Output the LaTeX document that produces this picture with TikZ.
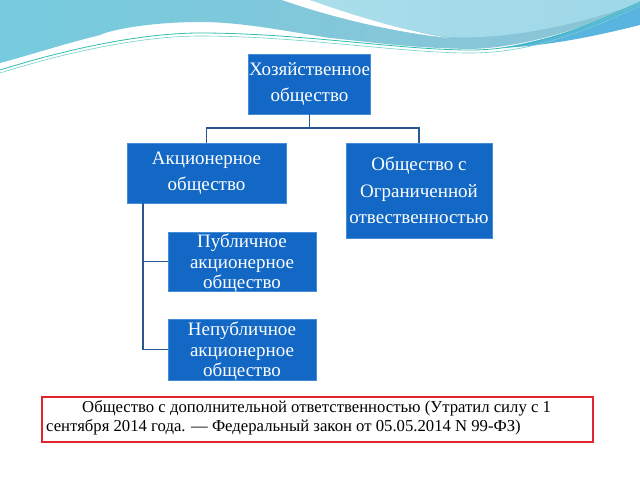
\documentclass[tikz,border=0pt]{standalone}
\usepackage{fontspec}
\setmainfont{Liberation Serif}
\definecolor{boxblue}{RGB}{18,104,196}
\definecolor{boxedge}{RGB}{70,140,215}
\definecolor{linkblue}{RGB}{40,88,145}
\definecolor{wavecyan}{RGB}{118,203,222}
\definecolor{wavegray}{RGB}{140,196,214}
\definecolor{wavelight}{RGB}{170,222,234}
\definecolor{waveblue}{RGB}{90,180,224}
\definecolor{teal}{RGB}{50,190,175}
\definecolor{notered}{RGB}{226,36,44}
\begin{document}
\begin{tikzpicture}[x=1pt,y=-1pt,
  orgbox/.style={draw=boxedge,line width=0.8pt,fill=boxblue,text=white,align=center,inner sep=0pt},
  bigtxt/.style={font=\fontsize{19}{26.5}\selectfont},
  smalltxt/.style={font=\fontsize{19}{20.5}\selectfont,text depth=0pt},
  link/.style={draw=linkblue,line width=1.5pt}]
\useasboundingbox (0,0) rectangle (640,480);
\fill[white] (0,0) rectangle (640,480);
% top decoration
\shade[left color=wavecyan,right color=wavegray]
  (0,0) -- (640,0) -- (640,5) .. controls (580,30) and (520,48) .. (470,49)
  .. controls (410,48) and (370,42) .. (330,38)
  .. controls (280,30) and (240,22) .. (200,22)
  .. controls (150,22) and (110,30) .. (100,35)
  .. controls (60,45) and (30,55) .. (0,63) -- cycle;
\shade[left color=wavelight,right color=wavelight!85!waveblue]
  (310,0) .. controls (360,18) and (410,32) .. (450,37)
  .. controls (520,40) and (590,20) .. (640,3) -- (640,0) -- cycle;
\fill[white] (282,0) .. controls (340,20) and (400,33) .. (450,38)
  .. controls (410,32) and (360,18) .. (310,0) -- cycle;
\fill[waveblue] (500,48) .. controls (560,38) and (610,18) .. (640,3)
  -- (640,25) .. controls (600,35) and (550,46) .. (500,48) -- cycle;
\draw[teal,line width=0.8pt] (0,70) .. controls (80,45) and (150,33) .. (200,33)
  .. controls (300,33) and (400,50) .. (470,50)
  .. controls (540,50) and (600,20) .. (640,2);
\draw[teal!70!white,line width=0.6pt] (0,73) .. controls (80,48) and (150,36) .. (200,36)
  .. controls (300,36) and (400,53) .. (470,53)
  .. controls (540,53) and (600,24) .. (640,6);
% boxes
\node[orgbox,bigtxt,minimum width=122pt,minimum height=60pt] (top) at (309.5,84) {Хозяйственное\\общество};
\node[orgbox,bigtxt,minimum width=159pt,minimum height=60pt] (akts) at (206.5,173) {Акционерное\\общество};
\node[orgbox,bigtxt,minimum width=146pt,minimum height=95pt] (ooo) at (419,190.5) {Общество с\\Ограниченной\\отвественностью};
\node[orgbox,smalltxt,minimum width=148pt,minimum height=59pt] (pub) at (242,261.5) {Публичное\\акционерное\\общество};
\node[orgbox,smalltxt,minimum width=148pt,minimum height=61pt] (npub) at (242,349.5) {Непубличное\\акционерное\\общество};
% connectors
\coordinate (fork) at (309.5,128);
\draw[link] (top.south) -- (fork) -| (akts.north);
\draw[link] (fork) -| (ooo.north);
\coordinate (trunk) at (143,203);
\draw[link] (trunk) |- (pub.west);
\draw[link] (trunk) |- (npub.west);
% note
\node[draw=notered,line width=1.2pt,minimum width=551pt,minimum height=45pt,inner sep=0pt] (note) at (317.5,419.5) {};
\node[anchor=north west,align=left,inner sep=0pt,font=\fontsize{16.7}{19}\selectfont] (notetxt) at (46,400)
  {\hspace*{36pt}Общество с дополнительной ответственностью (Утратил силу с 1\\сентября 2014 года. — Федеральный закон от 05.05.2014 N 99-ФЗ)};
\end{tikzpicture}
\end{document}
